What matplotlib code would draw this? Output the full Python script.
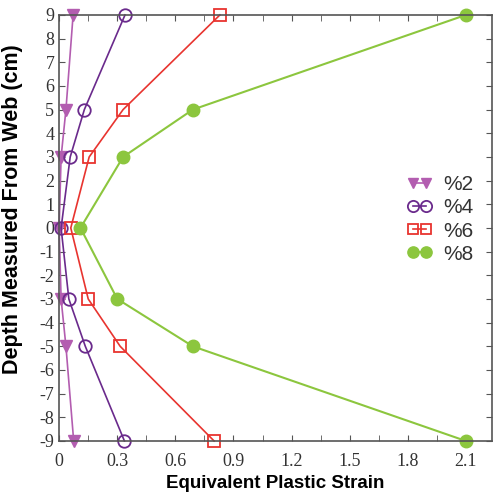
import matplotlib.pyplot as plt
from matplotlib.ticker import MultipleLocator

depth = [9, 5, 3, 0, -3, -5, -9]
strain_2 = [0.072, 0.035, 0.01, 0.0, 0.01, 0.035, 0.075]
strain_4 = [0.34, 0.13, 0.057, 0.01, 0.05, 0.135, 0.337]
strain_6 = [0.83, 0.33, 0.155, 0.06, 0.15, 0.315, 0.80]
strain_8 = [2.1, 0.69, 0.33, 0.11, 0.30, 0.69, 2.1]
labels = ["%2", "%4", "%6", "%8"]
xticks = [0, 0.3, 0.6, 0.9, 1.2, 1.5, 1.8, 2.1]
xtick_labels = ["0", "0.3", "0.6", "0.9", "1.2", "1.5", "1.8", "2.1"]

fig = plt.figure(figsize=(4.93, 4.98), dpi=100)
ax = fig.add_axes([0.12, 0.1145, 0.878, 0.8555])

ax.plot(strain_2, depth, color="#b35db0", marker="v", markersize=8, lw=1.2, label=labels[0], clip_on=False)
ax.plot(strain_4, depth, color="#6a2a8c", marker="o", markersize=9, mfc="none", mew=1.3, lw=1.2, label=labels[1], clip_on=False)
ax.plot(strain_6, depth, color="#e8342f", marker="s", markersize=8, mfc="none", mew=1.3, lw=1.2, label=labels[2], clip_on=False)
ax.plot(strain_8, depth, color="#8cc63e", marker="o", markersize=9, lw=1.5, label=labels[3], clip_on=False)

ax.set_xlim(0, 2.235)
ax.set_ylim(-9, 9)
ax.xaxis.set_minor_locator(MultipleLocator(0.15))
ax.tick_params(which="both", direction="in", top=True, right=True, length=4,
               color="#555555", labelsize=13, labelcolor="#333333")
ax.tick_params(axis="x", pad=9)
ax.set_xticks(xticks)
ax.set_xticklabels(xtick_labels, family="Liberation Serif")
ax.set_yticks(range(-9, 10))
ax.set_yticklabels([str(v) for v in range(-9, 10)], family="Liberation Serif")
for s in ax.spines.values():
    s.set_color("#555555")
    s.set_linewidth(1.2)

ax.set_xlabel("Equivalent Plastic Strain", family="Liberation Sans", fontweight="bold", fontsize=13.5, labelpad=3)
ax.set_ylabel("Depth Measured From Web (cm)", family="Liberation Sans", fontweight="bold", fontsize=15.5)
ax.yaxis.set_label_coords(-0.083, 0.545)

leg = ax.legend(loc="center right", bbox_to_anchor=(1.0, 0.52), frameon=False, numpoints=2,
                handlelength=1.25, handletextpad=0.5, labelspacing=0.2, markerscale=0.9,
                prop={"family": "Liberation Sans", "size": 15})
for t in leg.get_texts():
    t.set_color("#333333")

fig.savefig("out.png", dpi=100)
